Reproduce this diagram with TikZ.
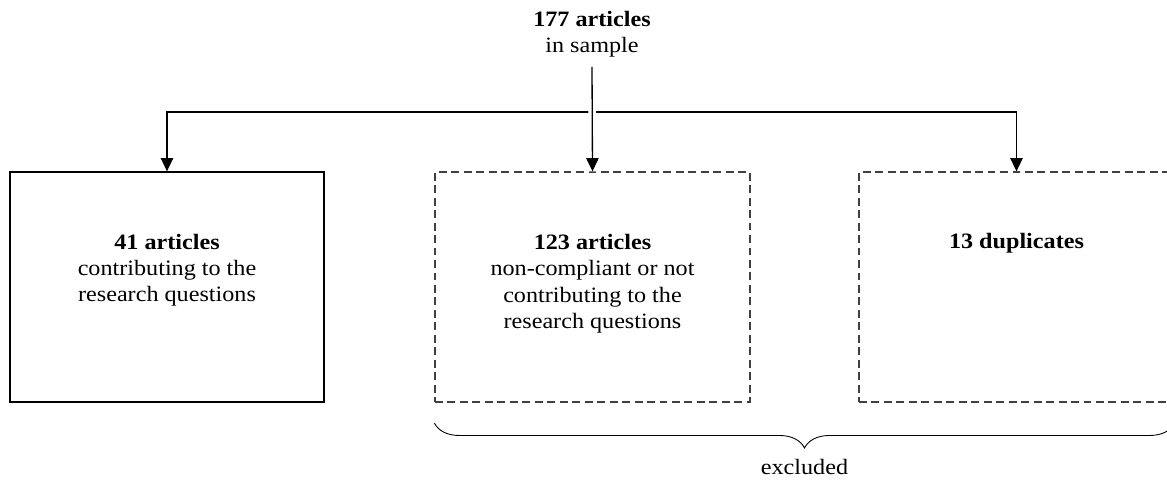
\documentclass[tikz,border=0pt]{standalone}
\usepackage{fontspec}
\setmainfont{Liberation Serif}[FakeStretch=1.1]
\usetikzlibrary{arrows.meta,decorations.pathreplacing}

\tikzset{
  flow/.style={line width=0.75pt, draw=black},
  tip/.style={-{Triangle[width=7pt,length=7.5pt]}},
  keptbox/.style={draw=black, line width=0.75pt, minimum width=314*0.02cm, minimum height=230*0.02cm, inner sep=0pt},
  dropbox/.style={draw=black!75, line width=0.75pt, dash pattern=on 4.5pt off 2.6pt, minimum width=315*0.02cm, minimum height=230*0.02cm, inner sep=0pt},
  label/.style={align=center, font=\fontsize{12.5}{15}\selectfont, inner sep=0pt},
}

\begin{document}
\begin{tikzpicture}[x=0.02cm, y=-0.02cm]
  \useasboundingbox (0,0) rectangle (1167,482);
  \clip (0,0) rectangle (1167,482);

  % source (base anchor sits on the last line)
  \node[label, anchor=base] (src) at (592,53) {\textbf{177 articles}\\in sample};

  % outcome boxes
  \node[keptbox] (kept) at (167,287) {};
  \node[dropbox] (noncomp) at (592.5,287) {};
  \node[dropbox] (dups) at (1016.5,287) {};

  \node[label, anchor=base] at (kept.north |- 0,302) {\textbf{41 articles}\\contributing to the\\research questions};
  \node[label, anchor=base] at (noncomp.north |- 0,328.5) {\textbf{123 articles}\\non-compliant or not\\contributing to the\\research questions};
  \node[label, anchor=base] at (dups.north |- 0,249) {\textbf{13 duplicates}};

  % branching connectors
  \coordinate (split) at (592,112);
  \coordinate (src end) at (592,67);
  \draw[flow, tip] (split) -| (kept.north);
  \draw[flow, tip] (split) -| (dups.north);
  \draw[flow, tip, preaction={draw=white, line width=4.5pt, -}] (src end) -- (noncomp.north);

  % brace over the excluded boxes
  \draw[line width=0.5pt, decorate, decoration={brace, mirror, amplitude=0.5cm, aspect=0.5}]
    (noncomp.south west |- 0,423) -- (dups.south east |- 0,423)
    node[midway, below=0.72cm, label] (excl) {excluded};
\end{tikzpicture}
\end{document}
